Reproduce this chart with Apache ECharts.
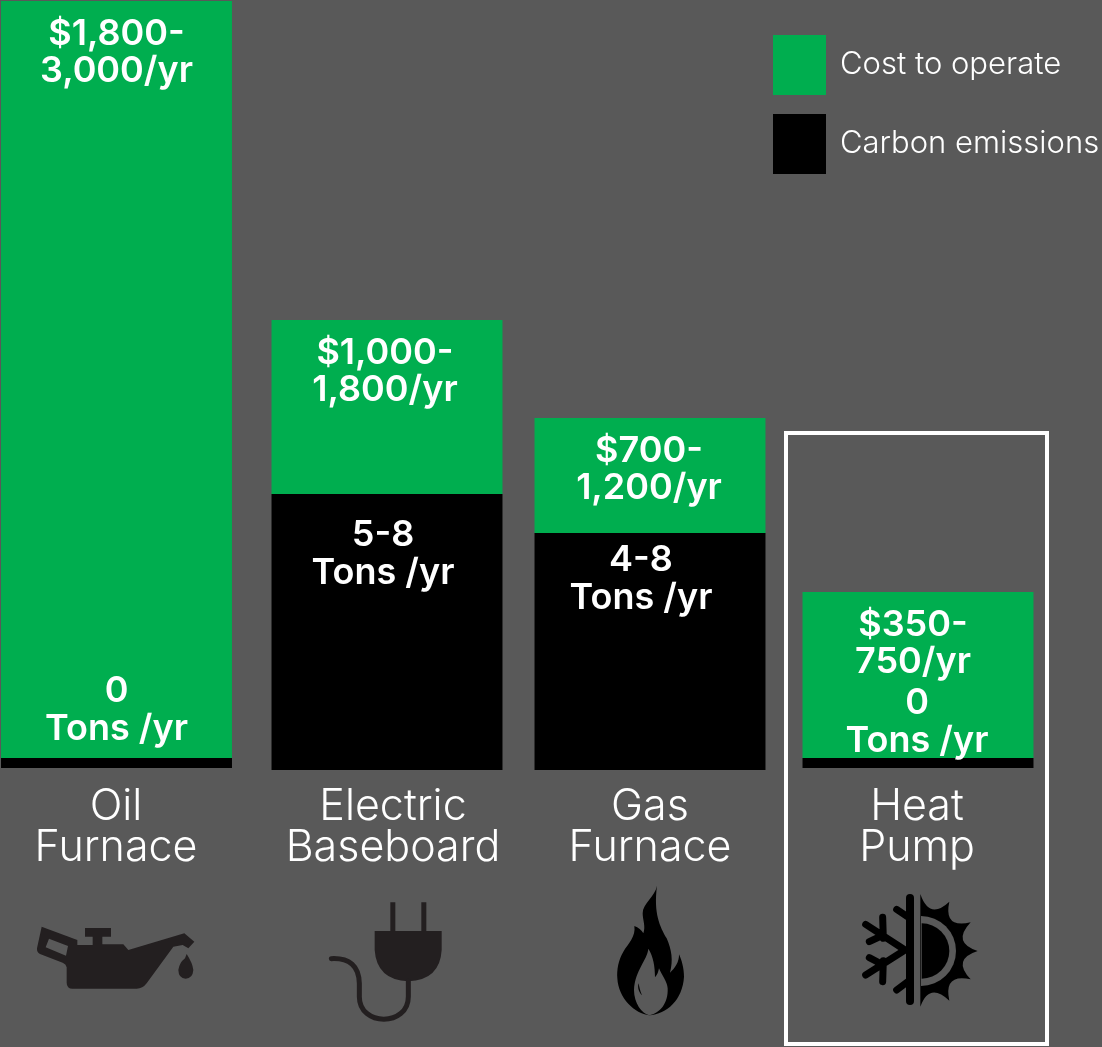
<!DOCTYPE html>
<html>
<head>
<meta charset="utf-8">
<title>Heating costs and emissions</title>
<style>
  html, body { margin: 0; padding: 0; background: #595959; }
  #main { width: 1102px; height: 1047px; }
</style>
<script src="https://cdn.jsdelivr.net/npm/echarts@6/dist/echarts.min.js"></script>
</head>
<body>
<div id="main"></div>
<script>
// values (bar heights are the picture's own unlabelled scale)
var categories = ['Oil\nFurnace', 'Electric\nBaseboard', 'Gas\nFurnace', 'Heat\nPump'];
var costHeights = [757, 174, 115, 166];
var carbonHeights = [10, 276, 237, 10];
var costLabels = ['$1,800-\n3,000/yr', '$1,000-\n1,800/yr', '$700-\n1,200/yr', '$350-\n750/yr'];
var carbonLabels = ['0\nTons /yr', '5-8\nTons /yr', '4-8\nTons /yr', '0\nTons /yr'];
var seriesNames = ['Cost to operate', 'Carbon emissions'];

// layout tweaks, the bars are not evenly spaced in the original
var barNudgeX = [0.5, 4, 0, 1];
var barLiftY = [2, 0, 0, 2];
var costLabelX = [0, -2, -1, -5];
var carbonLabelX = [0, -4, -9, -1];
var carbonLabelY = [-68, 40, 26, -56];
var BG = '#595959';
var GREEN = '#00ae4f';
var BOLD = '600 36px Inter';

// 图标 (icon paths, drawn in 3x crop coordinates then scaled down)
var iconCount = 0;
function icon(x, y, path, fill, stroke, lineWidth) {
    var cName = 'iconPath' + (iconCount++);
    echarts.graphic.registerShape(cName, echarts.graphic.extendPath(path));
    return {
        type: cName,
        x: x, y: y, scaleX: 1 / 3, scaleY: 1 / 3,
        style: {
            fill: fill || null,
            stroke: stroke || null,
            lineWidth: lineWidth || 0,
            lineCap: 'round'
        },
        silent: true
    };
}

var can = '#231f20';
var flame = '#000';
var icons = [
    // oil can
    icon(0, 870, 'M125 170L232 210L232 225L278 225L278 200L255 200L255 174L333 174L333 200L307 200L307 223L370 223L385 240L553 190L583 215L565 235L548 225L520 230L440 340Q428 356 410 356L218 356Q200 356 200 338L200 292Q198 282 188 278L120 252Q110 248 111 235ZM147 206L137 232L198 257L204 228Z', can),
    icon(0, 870, 'M560 252Q578 280 580 300Q578 326 557 326Q536 326 535 300Q538 278 555 265Z', can),
    // plug
    icon(0, 870, 'M1124 183L1171 183L1171 97L1186 97L1186 183L1264 183L1264 97L1279 97L1279 183L1325 183L1325 240Q1320 330 1225 334Q1130 330 1124 240Z', can),
    icon(0, 870, 'M994 266Q1076 262 1078 340L1078 380C1078 470 1225 470 1225 380L1225 334', null, can, 15),
    // flame
    icon(560, 870, 'M291 47C285 80 248 100 248 130C248 150 258 170 250 190C245 180 235 172 223 168C228 200 205 220 190 245C175 270 170 300 172 325C175 385 225 432 268 436C320 432 368 390 372 320C372 295 365 270 357 253C358 275 345 295 330 308C340 270 335 240 320 205C300 170 280 130 291 47Z', flame),
    icon(560, 870, 'M265 236C262 270 225 300 222 360C222 400 245 430 268 436C300 430 325 400 323 355C322 335 305 315 297 295C295 305 292 315 285 322C285 290 280 260 265 236Z', BG),
    icon(560, 870, 'M236 340C232 352 236 366 246 376C240 362 238 352 236 340Z', flame),
    // snow / sun
    icon(560, 870, 'M1050 84L1050 393', null, flame, 24),
    icon(560, 870, 'M1035 240L917 163M968 142L970 205M928 215L970 195M1035 240L917 315M928 263L970 285M968 335L970 272M1010 118L1050 145M1010 360L1050 330', null, flame, 21),
    icon(560, 870, 'M1081 72Q1108 151 1168 95Q1150 176 1232 157Q1175 218 1253 243Q1175 268 1232 328Q1150 310 1168 392Q1108 335 1081 410Z', flame),
    icon(560, 870, 'M1083 138A105 105 0 0 1 1083 348Z', BG),
    icon(560, 870, 'M1085 160A83 83 0 0 1 1085 326Z', flame)
];

function labelText(x, y, text) {
    return {
        type: 'text',
        z2: 10,
        style: {
            x: x, y: y, text: text, fill: '#fff', font: BOLD,
            align: 'center', verticalAlign: 'middle', lineHeight: 37.5
        }
    };
}

function barRect(api, i, top, bottom, color) {
    var p0 = api.coord([i, top]);
    var p1 = api.coord([i, bottom]);
    var w = api.size([1, 0])[0] * 0.865;
    var lift = barLiftY[i];
    return {
        type: 'rect',
        shape: { x: p0[0] + barNudgeX[i] - w / 2, y: p0[1] - lift, width: w, height: p1[1] - p0[1] },
        style: { fill: color }
    };
}

function renderCost(params, api) {
    var i = api.value(0);
    var rect = barRect(api, i, api.value(1), api.value(2), GREEN);
    var s = rect.shape;
    return {
        type: 'group',
        children: [rect, labelText(s.x + s.width / 2 + costLabelX[i], s.y + 51.5, costLabels[i])]
    };
}

function renderCarbon(params, api) {
    var i = api.value(0);
    var rect = barRect(api, i, api.value(1), 0, '#000');
    var s = rect.shape;
    return {
        type: 'group',
        children: [rect, labelText(s.x + s.width / 2 + carbonLabelX[i], s.y + carbonLabelY[i] + 20, carbonLabels[i])]
    };
}

var oChart = echarts.init(document.getElementById('main'));
oChart.setOption({
    backgroundColor: BG,
    animation: false,
    legend: {
        left: 773,
        top: 35,
        padding: 0,
        orient: 'vertical',
        itemWidth: 53,
        itemHeight: 60,
        itemGap: 19,
        icon: 'rect',
        data: seriesNames,
        selectedMode: false,
        textStyle: {
            color: '#fff',
            fontFamily: 'Inter',
            fontWeight: 300,
            fontSize: 31,
            padding: [0, 0, 0, 9]
        }
    },
    grid: { left: 116, top: 0, width: 801, height: 770 },
    xAxis: {
        type: 'category',
        boundaryGap: false,
        data: categories,
        axisLine: { show: false },
        axisTick: { show: false },
        axisLabel: {
            margin: 17,
            interval: 0,
            formatter: function (value) {
                // Electric Baseboard sits right of its bar in the original
                var style = value.indexOf('Electric') === 0 ? 'shift' : 'plain';
                return value.split('\n').map(function (t) {
                    return '{' + style + '|' + t + '}';
                }).join('\n');
            },
            rich: {
                plain: { color: '#fff', fontFamily: 'Inter', fontWeight: 300, fontSize: 43, lineHeight: 41 },
                shift: { color: '#fff', fontFamily: 'Inter', fontWeight: 300, fontSize: 43, lineHeight: 41, padding: [0, 0, 0, 20] }
            }
        }
    },
    yAxis: { type: 'value', min: 0, max: 770, show: false },
    series: [
        {
            name: seriesNames[0],
            type: 'custom',
            z: 2,
            clip: false,
            itemStyle: { color: GREEN },
            renderItem: renderCost,
            data: categories.map(function (c, i) {
                return [i, costHeights[i] + carbonHeights[i], carbonHeights[i]];
            })
        },
        {
            name: seriesNames[1],
            type: 'custom',
            z: 3,
            clip: false,
            itemStyle: { color: '#000' },
            renderItem: renderCarbon,
            data: categories.map(function (c, i) {
                return [i, carbonHeights[i]];
            })
        }
    ],
    graphic: {
        elements: [
            // 高亮框 (white box round the heat pump)
            {
                type: 'rect',
                shape: { x: 786, y: 433, width: 261, height: 611 },
                style: { fill: null, stroke: '#fff', lineWidth: 4 },
                silent: true
            }
        ].concat(icons)
    }
});
</script>
</body>
</html>
